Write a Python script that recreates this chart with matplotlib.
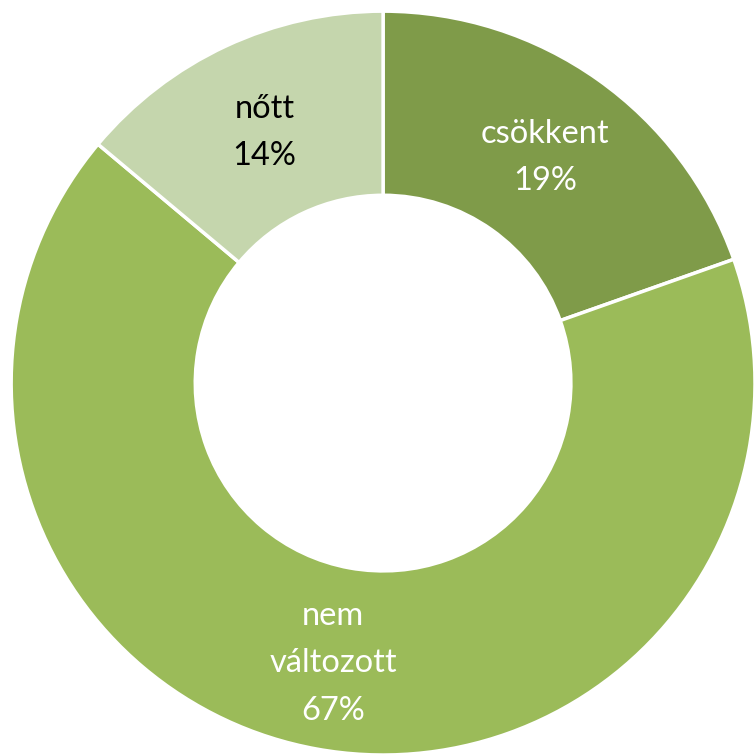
import matplotlib
matplotlib.use("Agg")
from matplotlib import pyplot as plt
from matplotlib import transforms

categories = ["csökkent", "nem\nváltozott", "nőtt"]
shares = [19.6, 66.5, 13.9]
pct_labels = ["19%", "67%", "14%"]
colors = ["#7F9B49", "#9BBB59", "#C5D6AD"]
text_colors = ["white", "white", "black"]

fig = plt.figure(figsize=(7.55, 7.55), dpi=100)
ax = fig.add_axes([0, 0, 1, 1])

wedges, texts = ax.pie(shares,
                       colors=colors,
                       startangle=90,
                       counterclock=False,
                       radius=1.0,
                       labels=[c + "\n" + p for c, p in zip(categories, pct_labels)],
                       labeldistance=0.755,
                       wedgeprops=dict(width=0.495, edgecolor="white", linewidth=2.5),
                       textprops=dict(fontsize=23.5, family="Lato", linespacing=1.72,
                                      ha="center", va="center"))
# nudge labels down a touch, like the original
shift = transforms.ScaledTranslation(0, -4 / 100, fig.dpi_scale_trans)
for t, c in zip(texts, text_colors):
    t.set_color(c)
    t.set_ha("center")
    t.set_transform(t.get_transform() + shift)

ax.set_xlim(-1.030, 1.0)
ax.set_ylim(-1.0, 1.030)
ax.set_aspect("equal")
ax.axis("off")

fig.savefig("out.png", dpi=100)
